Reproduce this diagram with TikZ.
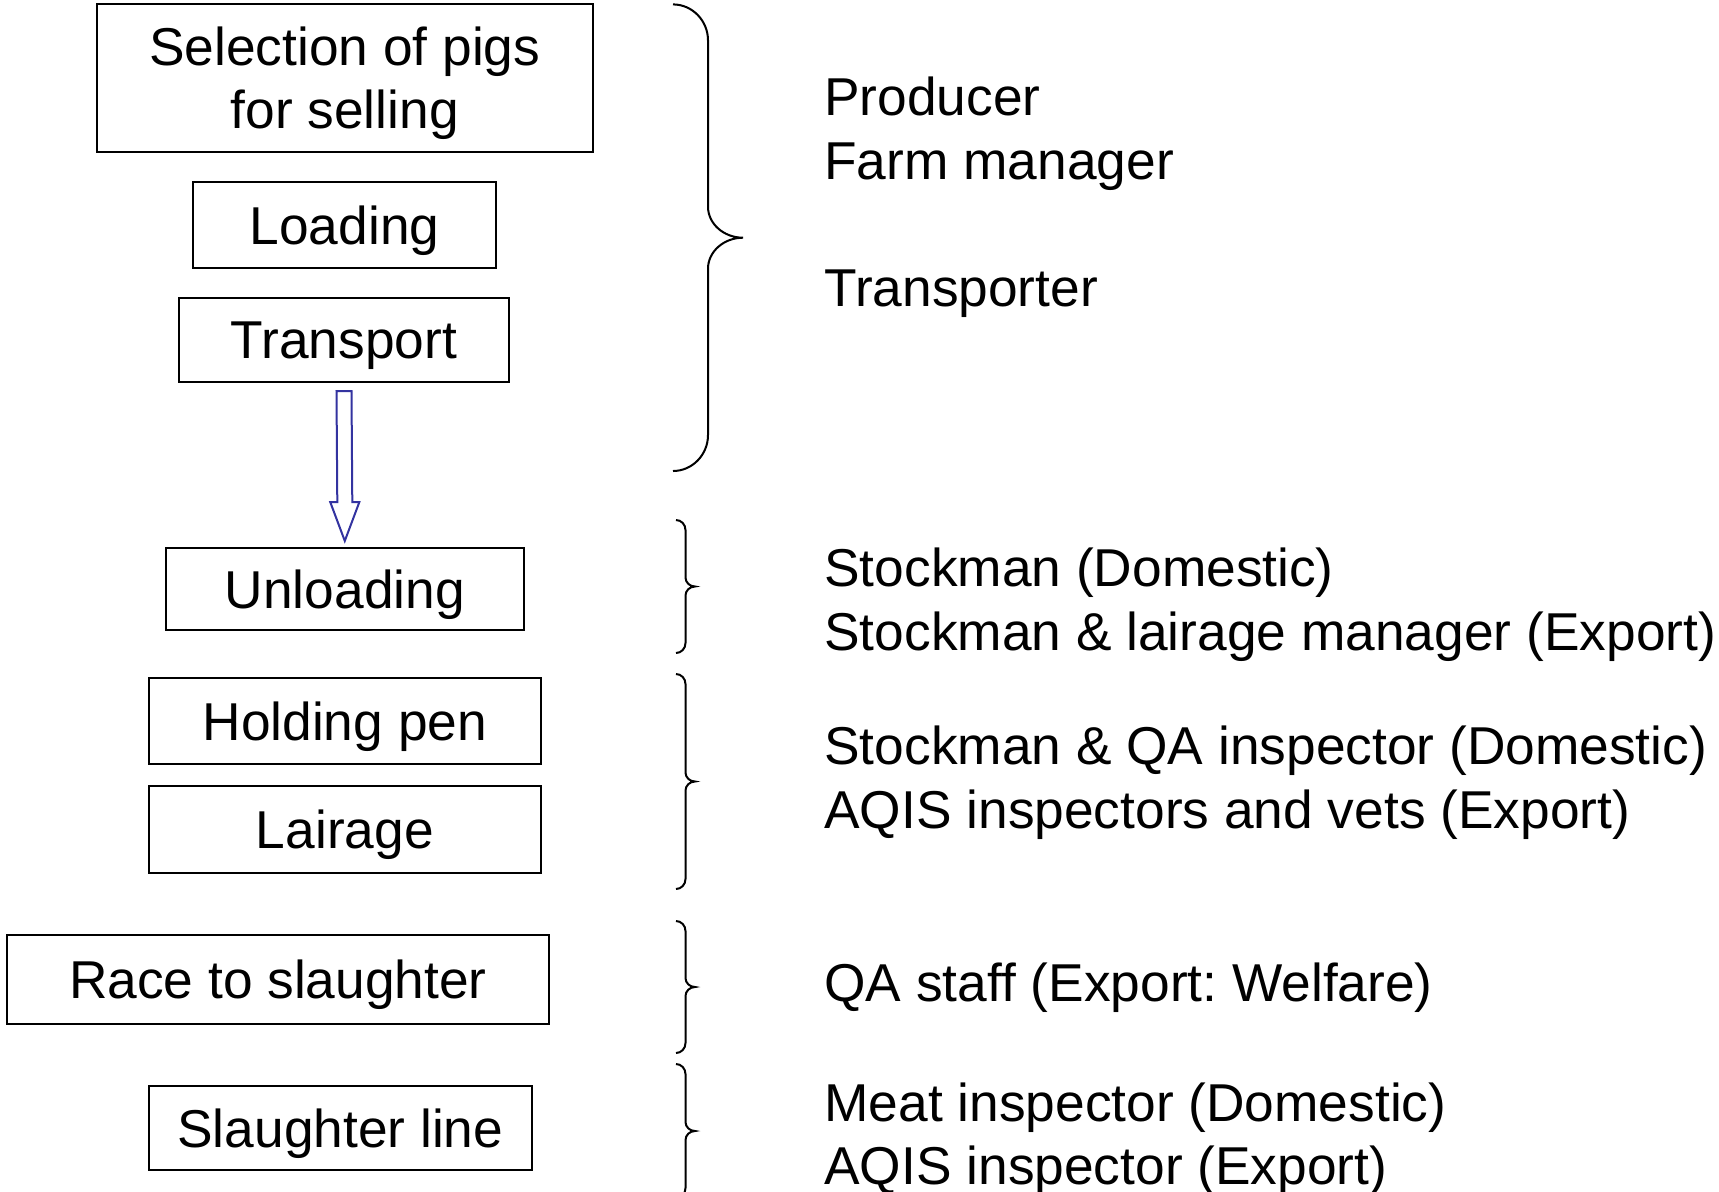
\documentclass[tikz,border=0pt]{standalone}
\usepackage{fontspec}
\setmainfont{Liberation Sans}
\usetikzlibrary{calc}
\definecolor{arrowblue}{RGB}{51,51,160}
\frenchspacing

% right-hand curly brace: tips at x=#1, from y=#2 to y=#3,
% horizontal step #4, end-curve height #5, middle-curve height #6
\newcommand{\curlybrace}[6]{%
  \draw[bracestyle] (#1,#2)
    .. controls ({#1+0.55*#4},#2) and ({#1+#4},{#2+0.45*#5}) .. ({#1+#4},{#2+#5})
    -- ({#1+#4},{(#2+#3)/2-#6})
    .. controls ({#1+#4},{(#2+#3)/2-0.45*#6}) and ({#1+1.45*#4},{(#2+#3)/2}) .. ({#1+2*#4},{(#2+#3)/2})
    .. controls ({#1+1.45*#4},{(#2+#3)/2}) and ({#1+#4},{(#2+#3)/2+0.45*#6}) .. ({#1+#4},{(#2+#3)/2+#6})
    -- ({#1+#4},{#3-#5})
    .. controls ({#1+#4},{#3-0.45*#5}) and ({#1+0.55*#4},#3) .. (#1,#3);%
}

\begin{document}
\begin{tikzpicture}[x=0.5pt,y=-0.5pt,
  txt/.style={font=\fontsize{26.65pt}{31.5pt}\selectfont},
  box/.style={txt, draw=black, line width=1pt, inner sep=0pt,
              text depth=-1pt, align=center},
  role/.style={txt, anchor=base west, inner sep=0pt},
  bracestyle/.style={draw=black, line width=1pt},
  blockarrow/.style={draw=arrowblue, line width=1pt, line join=miter}]

\useasboundingbox (0,0) rectangle (1719,1191);

% process steps
\node[box, text depth=-3pt, minimum width=248pt, minimum height=73.85pt] (sel) at (344.7,77.85)
  {Selection of pigs\\for selling};
\node[box, minimum width=151.5pt, minimum height=43pt] (load) at (344.5,225) {Loading};
\node[box, minimum width=165pt, minimum height=41.85pt] (trans) at (344,339.85) {Transport};
\node[box, minimum width=179.25pt, minimum height=41.1pt] (unload) at (344.8,589.3) {Unloading};
\node[box, minimum width=195.7pt, minimum height=43.3pt] (hold) at (344.8,720.8) {Holding pen};
\node[box, minimum width=195.7pt, minimum height=43.3pt] (lair) at (344.8,829.3) {Lairage};
\node[box, minimum width=271.3pt, minimum height=44.45pt] (race) at (277.9,979.6) {Race to slaughter};
\node[box, minimum width=191.3pt, minimum height=41.7pt] (kill) at (340.4,1128.1) {Slaughter line};

% hollow block arrow from transport to unloading
\coordinate (atop) at ($(trans.south)+(0,8.3)$);
\coordinate (atip) at ($(unload.north)+(0,-6.3)$);
\draw[blockarrow]
  ($(atop)+(-7.5,0)$) -- ($(atop)+(7.5,0)$)
  -- ($(atip)+(7.5,-38.7)$) -- ($(atip)+(14.5,-38.7)$)
  -- (atip)
  -- ($(atip)+(-14.5,-38.7)$) -- ($(atip)+(-7.5,-38.7)$) -- cycle;

% braces grouping the steps
\curlybrace{673}{4.4}{471}{35}{36}{31}
\curlybrace{676}{520}{653}{9.5}{10}{9}
\curlybrace{676}{674}{889}{9.5}{10}{9}
\curlybrace{676}{921}{1053}{9.5}{10}{9}
\curlybrace{676}{1064}{1198}{9.5}{10}{9}

% responsible persons
\node[role] (r1)  at (824,115)  {Producer};
\node[role] (r2)  at (824,179)  {Farm manager};
\node[role] (r3)  at (824,306)  {Transporter};
\node[role] (r4)  at (824,586)  {Stockman (Domestic)};
\node[role] (r5)  at (824,650)  {Stockman \& lairage manager (Export)};
\node[role] (r6)  at (824,764)  {Stockman \& QA inspector (Domestic)};
\node[role] (r7)  at (824,828)  {AQIS inspectors and vets (Export)};
\node[role] (r8)  at (824,1001) {QA staff (Export: Welfare)};
\node[role] (r9)  at (824,1121) {Meat inspector (Domestic)};
\node[role] (r10) at (824,1184) {AQIS inspector (Export)};
\end{tikzpicture}
\end{document}
